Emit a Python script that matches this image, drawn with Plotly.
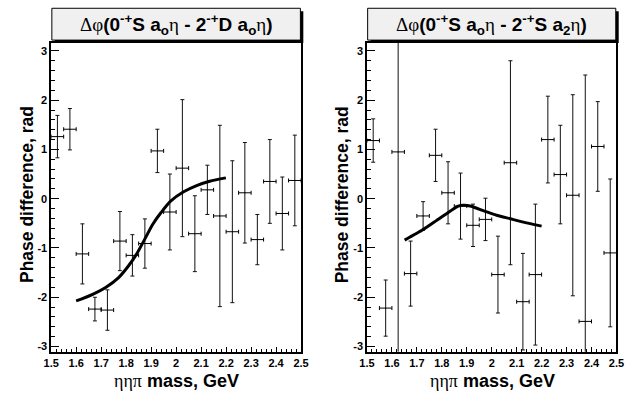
import plotly.graph_objects as go

W, H = 631, 394

# ---- data ----
mass_bins = [1.525, 1.575, 1.625, 1.675, 1.725, 1.775, 1.825, 1.875, 1.925, 1.975,
             2.025, 2.075, 2.125, 2.175, 2.225, 2.275, 2.325, 2.375, 2.425, 2.475]
bin_half_width = [0.025] * len(mass_bins)

phase_left = [1.26, 1.41, -1.12, -2.24, -2.26, -0.86, -1.15, -0.91, 0.97, -0.27,
              0.62, -0.71, 0.18, -0.35, -0.67, 0.12, -0.83, 0.35, -0.30, 0.37]
err_left = [0.43, 0.42, 0.61, 0.24, 0.41, 0.60, 0.42, 0.50, 0.44, 0.77,
            1.39, 0.77, 0.50, 1.84, 1.44, 1.02, 0.51, 0.85, 0.74, 0.92]

phase_right = [1.18, -2.22, 0.95, -1.52, -0.35, 0.88, 0.12, -0.15, -0.54, -0.42,
               -1.54, 0.73, -2.09, -1.54, 1.20, 0.49, 0.07, -2.49, 1.06, -1.10]
err_right = [0.44, 0.57, 4.5, 0.66, 0.29, 0.53, 0.63, 0.67, 0.43, 0.43,
             0.78, 2.07, 0.98, 1.43, 0.88, 1.00, 2.04, 5.0, 0.91, 1.50]

fit_left_mass = [1.600, 1.666, 1.718, 1.770, 1.809, 1.841, 1.874, 1.906, 1.939,
                 1.978, 2.030, 2.082, 2.134, 2.199]
fit_left_phase = [-2.075, -1.94, -1.80, -1.60, -1.366, -1.13, -0.826, -0.522, -0.286,
                  -0.05, 0.14, 0.267, 0.355, 0.423]

fit_right_mass = [1.651, 1.722, 1.775, 1.827, 1.866, 1.886, 1.918, 1.971, 2.023, 2.075, 2.127, 2.200]
fit_right_phase = [-0.84, -0.637, -0.455, -0.273, -0.152, -0.132, -0.152, -0.253, -0.34, -0.407, -0.476, -0.556]

x_tick_vals = [1.5, 1.6, 1.7, 1.8, 1.9, 2.0, 2.1, 2.2, 2.3, 2.4, 2.5]
x_tick_text = ["1.5", "1.6", "1.7", "1.8", "1.9", "2", "2.1", "2.2", "2.3", "2.4", "2.5"]
y_tick_vals = [-3, -2, -1, 0, 1, 2, 3]
y_tick_text = ["-3", "-2", "-1", "0", "1", "2", "3"]

title_left = ("<span style='font-family:Liberation Serif'>Δφ</span><b>(0<sup>-+</sup>S a<sub>o</sub></b>"
              "<span style='font-family:Liberation Serif'>η</span><b> - 2<sup>-+</sup>D a<sub>o</sub></b>"
              "<span style='font-family:Liberation Serif'>η</span><b>)</b>")
title_right = ("<span style='font-family:Liberation Serif'>Δφ</span><b>(0<sup>-+</sup>S a<sub>o</sub></b>"
               "<span style='font-family:Liberation Serif'>η</span><b> - 2<sup>-+</sup>S a<sub>2</sub></b>"
               "<span style='font-family:Liberation Serif'>η</span><b>)</b>")
x_title = "<span style='font-family:Liberation Serif'>ηηπ</span><b> mass, GeV</b>"
y_title = "<b>Phase difference, rad</b>"

# ---- layout geometry (pixels -> paper) ----
def px(x):
    return x / W

def py(y):
    return 1 - y / H

panels = [
    dict(x0=44.3, x1=300.7, phase=phase_left, err=err_left, fm=fit_left_mass, fv=fit_left_phase,
         title=title_left, ylab_x=19, shape="spline", smooth=0.8),
    dict(x0=368.3, x1=624.3, phase=phase_right, err=err_right, fm=fit_right_mass, fv=fit_right_phase,
         title=title_right, ylab_x=342.5, shape="spline", smooth=0.4),
]
frame_top, frame_bottom = 42.7, 352.7

fig = go.Figure()
shapes = []
annotations = []
font_sans = "Liberation Sans, Arial, sans-serif"

for i, p in enumerate(panels):
    k = "" if i == 0 else str(i + 1)
    xa, ya = "x" + k, "y" + k
    fig.add_trace(go.Scatter(
        x=mass_bins, y=p["phase"], mode="markers", xaxis=xa, yaxis=ya,
        marker=dict(size=1, color="black"),
        error_y=dict(type="data", array=p["err"], color="#111111", thickness=1, width=2),
        error_x=dict(type="data", array=bin_half_width, color="black", thickness=1, width=2),
        showlegend=False, hoverinfo="skip"))
    fig.add_trace(go.Scatter(
        x=p["fm"], y=p["fv"], mode="lines", xaxis=xa, yaxis=ya,
        line=dict(color="black", width=3, shape=p["shape"], smoothing=p["smooth"]),
        showlegend=False, hoverinfo="skip"))

    axis_common = dict(showgrid=False, zeroline=False, showline=True, linecolor="black",
                       linewidth=1.5, mirror=True, ticks="inside", tickcolor="black",
                       tickfont=dict(family=font_sans, size=11, color="black", weight="bold"))
    fig.update_layout(**{
        "xaxis" + k: dict(domain=[px(p["x0"]), px(p["x1"])], range=[1.5, 2.5],
                          tickmode="array", tickvals=x_tick_vals,
                          ticktext=["<b>%s</b>" % t for t in x_tick_text],
                          ticklen=5, tickwidth=1,
                          minor=dict(ticks="inside", tickmode="linear", tick0=1.5, dtick=0.02,
                                     ticklen=3, tickcolor="black", tickwidth=1),
                          anchor=ya, **axis_common),
        "yaxis" + k: dict(domain=[py(frame_bottom), py(frame_top)], range=[-3.107, 3.168],
                          tickmode="array", tickvals=y_tick_vals,
                          ticktext=["<b>%s</b>" % t for t in y_tick_text],
                          ticklen=8, tickwidth=1,
                          minor=dict(ticks="inside", tickmode="linear", tick0=0, dtick=0.2,
                                     ticklen=4, tickcolor="black", tickwidth=1),
                          anchor=xa, **axis_common),
    })

    # title box with shadow
    bx0, bx1, by0, by1 = p["x0"] + 0.7, p["x1"] - 0.7, 8.3, 40.2
    shapes.append(dict(type="rect", xref="paper", yref="paper", layer="above",
                       x0=px(bx0 + 3), x1=px(bx1 + 3), y0=py(by1 + 3), y1=py(by0 + 3),
                       fillcolor="black", line=dict(width=0)))
    shapes.append(dict(type="rect", xref="paper", yref="paper", layer="above",
                       x0=px(bx0), x1=px(bx1), y0=py(by1), y1=py(by0),
                       fillcolor="#f0f0f0", line=dict(color="black", width=1)))
    annotations.append(dict(text=p["title"], xref="paper", yref="paper",
                            x=px((bx0 + bx1) / 2), y=py(24.5), showarrow=False,
                            xanchor="center", yanchor="middle",
                            font=dict(family=font_sans, size=19, color="black")))
    annotations.append(dict(text=x_title, xref="paper", yref="paper",
                            x=px((p["x0"] + p["x1"]) / 2 + 0.5), y=py(382), showarrow=False,
                            xanchor="center", yanchor="middle",
                            font=dict(family=font_sans, size=18, color="black")))
    annotations.append(dict(text=y_title, xref="paper", yref="paper",
                            x=px(p["ylab_x"]), y=py(195), showarrow=False, textangle=-90,
                            xanchor="center", yanchor="middle",
                            font=dict(family=font_sans, size=17.5, color="black")))

fig.update_layout(width=W, height=H, margin=dict(l=0, r=0, t=0, b=0),
                  paper_bgcolor="white", plot_bgcolor="white",
                  shapes=shapes, annotations=annotations)

fig.write_html("out.html", config={"displayModeBar": False})

# remove the default page margin so the figure sits at the window's top-left corner
with open("out.html", encoding="utf-8") as f:
    html = f.read()
html = html.replace("<body>", "<body style=\"margin:0;padding:0;overflow:hidden\">", 1)
with open("out.html", "w", encoding="utf-8") as f:
    f.write(html)
